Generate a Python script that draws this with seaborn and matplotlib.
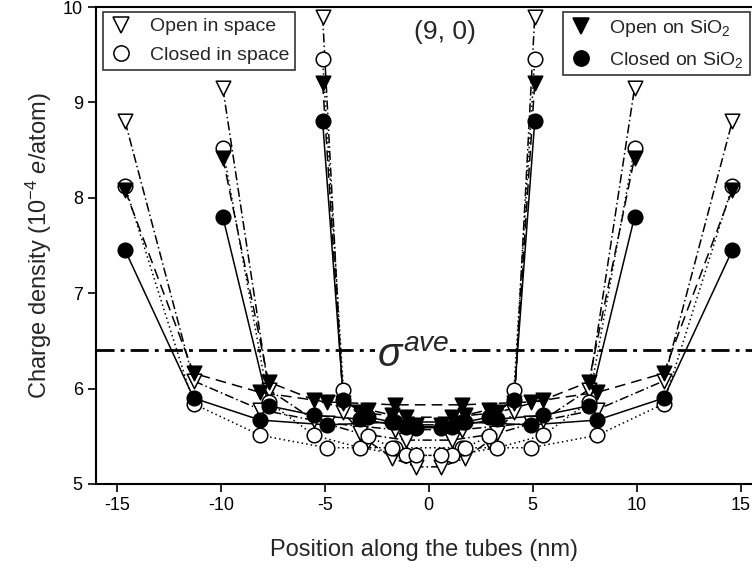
import numpy as np
import pandas as pd
import matplotlib
matplotlib.use("Agg")
import matplotlib.pyplot as plt
from matplotlib.lines import Line2D
import seaborn as sns

# 各チューブの半分の位置 (nm) ; 左右対称なので正側だけ
x_30 = [1.6, 4.9, 8.1, 11.3, 14.6]
x_20 = [1.1, 3.3, 5.5, 7.7, 9.9]
x_10 = [0.6, 1.75, 2.9, 4.1, 5.1]

# 電荷密度 (10^-4 e/atom)
open_space_30 = [5.57, 5.64, 5.78, 6.08, 8.80]
closed_space_30 = [5.38, 5.38, 5.51, 5.84, 8.12]
open_sio2_30 = [5.83, 5.86, 5.96, 6.16, 8.08]
closed_sio2_30 = [5.65, 5.62, 5.67, 5.90, 7.45]

open_space_20 = [5.46, 5.53, 5.67, 5.99, 9.15]
closed_space_20 = [5.30, 5.38, 5.51, 5.86, 8.52]
open_sio2_20 = [5.70, 5.75, 5.88, 6.07, 8.42]
closed_sio2_20 = [5.60, 5.68, 5.72, 5.82, 7.80]

open_space_10 = [5.18, 5.27, 5.45, 5.75, 9.90]
closed_space_10 = [5.30, 5.38, 5.50, 5.99, 9.45]
open_sio2_10 = [5.62, 5.72, 5.78, 5.85, 9.20]
closed_sio2_10 = [5.59, 5.65, 5.70, 5.88, 8.80]

sigma_ave = 6.4

conditions = ["Open in space", "Closed in space", "Open on SiO2", "Closed on SiO2"]
tubes = {
    "30": (x_30, [open_space_30, closed_space_30, open_sio2_30, closed_sio2_30]),
    "20": (x_20, [open_space_20, closed_space_20, open_sio2_20, closed_sio2_20]),
    "10": (x_10, [open_space_10, closed_space_10, open_sio2_10, closed_sio2_10]),
}

# 左右対称に展開して表にする
rows = []
for tube, (xs, series) in tubes.items():
    xs = np.array(xs)
    for cond, ys in zip(conditions, series):
        ys = np.array(ys)
        xx = np.concatenate([-xs[::-1], xs])
        yy = np.concatenate([ys[::-1], ys])
        for a, b in zip(xx, yy):
            rows.append({"tube": tube, "cond": cond, "x": a, "y": b})
df = pd.DataFrame(rows)

sns.set_style("ticks")
plt.rcParams["font.family"] = ["Liberation Sans", "DejaVu Sans"]
plt.rcParams["axes.unicode_minus"] = False
plt.rcParams["mathtext.fontset"] = "custom"
plt.rcParams["mathtext.rm"] = "Liberation Sans"
plt.rcParams["mathtext.it"] = "Liberation Sans:italic"

styles = {
    "Open in space": dict(ls=(0, (6, 2, 1, 2)), marker="v", fc="white"),
    "Closed in space": dict(ls=(0, (1, 2)), marker="o", fc="white"),
    "Open on SiO2": dict(ls=(0, (7, 4)), marker="v", fc="black"),
    "Closed on SiO2": dict(ls="-", marker="o", fc="black"),
}

fig = plt.figure(figsize=(7.52, 5.71), dpi=100)
ax = fig.add_axes([96 / 752, 87 / 571, 656 / 752, 477 / 571])

# 線
for (tube, cond), g in df.groupby(["tube", "cond"]):
    sns.lineplot(data=g, x="x", y="y", ax=ax, color="black", lw=1.1,
                 linestyle=styles[cond]["ls"], estimator=None, sort=True,
                 legend=False, zorder=2)

# 平均値の線
ax.axhline(sigma_ave, color="black", lw=2, ls=(0, (6.5, 2.2, 1.4, 2.2)), zorder=1)
ax.text(-2.5, sigma_ave - 0.06, r"$\mathit{\sigma}^{ave}$", fontsize=29,
        va="center", ha="left", zorder=3,
        bbox=dict(facecolor="white", edgecolor="none", pad=1))

# マーカー
for cond in conditions:
    g = df[df["cond"] == cond]
    sns.scatterplot(data=g, x="x", y="y", ax=ax, marker=styles[cond]["marker"],
                    s=110, facecolor=styles[cond]["fc"], edgecolor="black",
                    linewidth=1.1, legend=False, zorder=4)

ax.text(0.8, 9.74, "(9, 0)", fontsize=19, ha="center", va="center")

ax.set_xlim(-16, 15.55)
ax.set_ylim(5, 10)
ax.set_xticks([-15, -10, -5, 0, 5, 10, 15])
ax.set_yticks([5, 6, 7, 8, 9, 10])
ax.tick_params(direction="out", length=6, width=1.2, labelsize=13, colors="black")
for s in ["left", "bottom", "top"]:
    ax.spines[s].set_visible(True)
    ax.spines[s].set_linewidth(1.5)
    ax.spines[s].set_color("black")
ax.spines["right"].set_visible(False)

ax.set_xlabel("Position along the tubes (nm)", fontsize=17, labelpad=18)
ax.set_ylabel(r"Charge density (10$^{-4}$ $\mathit{e}$/atom)", fontsize=17, labelpad=6)

def handle(cond):
    st = styles[cond]
    return Line2D([], [], ls="none", marker=st["marker"], markersize=11,
                  markerfacecolor=st["fc"], markeredgecolor="black", markeredgewidth=1.1)

leg_kw = dict(borderaxespad=0, fontsize=14, frameon=True, fancybox=False,
              edgecolor="black", handletextpad=0.8, borderpad=0.3,
              labelspacing=0.55, handlelength=1.3)
leg1 = ax.legend([handle(c) for c in conditions[:2]], ["Open in space", "Closed in space"],
                 loc="upper left", bbox_to_anchor=(0.0107, 0.9895), **leg_kw)
leg1.get_frame().set_linewidth(1.2)
ax.add_artist(leg1)
leg2 = ax.legend([handle(c) for c in conditions[2:]], [r"Open on SiO$_2$", r"Closed on SiO$_2$"],
                 loc="upper right", bbox_to_anchor=(0.997, 0.9895), **leg_kw)
leg2.get_frame().set_linewidth(1.2)

fig.savefig("out.png", dpi=100)
